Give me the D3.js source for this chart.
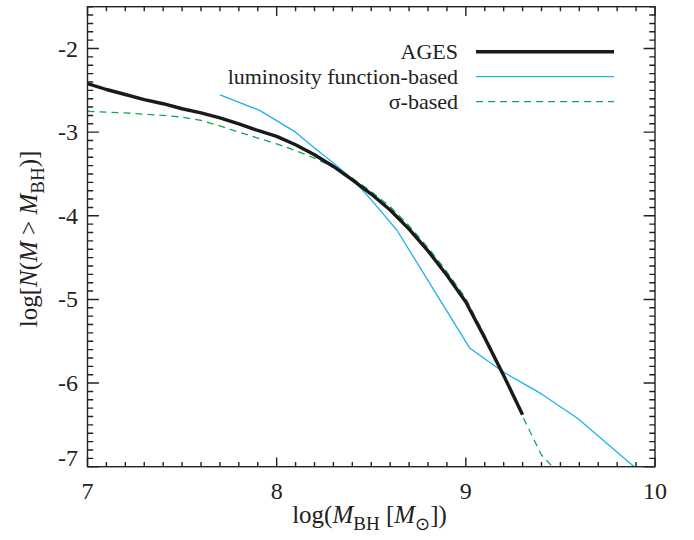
<!DOCTYPE html>
<html><head><meta charset="utf-8">
<script src="https://cdn.jsdelivr.net/npm/d3@7"></script>
<style>body{margin:0;background:#fff}svg{display:block}</style>
</head><body><svg id="c" width="694" height="540"></svg>
<script>
// Data
const agesX = [7.0,7.1,7.2,7.3,7.4,7.5,7.6,7.7,7.8,7.9,8.0,8.1,8.2,8.3,8.4,8.5,8.6,8.7,8.8,8.9,9.0,9.1,9.2,9.3];
const agesY = [-2.42,-2.49,-2.55,-2.61,-2.66,-2.72,-2.77,-2.83,-2.90,-2.98,-3.05,-3.15,-3.27,-3.41,-3.57,-3.74,-3.93,-4.16,-4.42,-4.71,-5.03,-5.46,-5.91,-6.38];
const lfX = [7.70,7.91,8.10,8.20,8.30,8.40,8.50,8.635,9.02,9.20,9.40,9.59,9.90];
const lfY = [-2.555,-2.74,-3.00,-3.19,-3.37,-3.56,-3.81,-4.17,-5.58,-5.87,-6.13,-6.42,-7.02];
const sigX = [7.0,7.1,7.2,7.3,7.4,7.5,7.6,7.7,7.8,7.9,8.0,8.1,8.2,8.3,8.4,8.5,8.6,8.7,8.8,8.9,9.0,9.1,9.2,9.3,9.4,9.5];
const sigY = [-2.75,-2.76,-2.77,-2.785,-2.80,-2.82,-2.86,-2.925,-3.00,-3.07,-3.14,-3.22,-3.31,-3.42,-3.55,-3.71,-3.89,-4.12,-4.38,-4.67,-4.99,-5.43,-5.90,-6.40,-6.86,-7.10];
const xTickVals = [7,8,9,10];
const yTickVals = [-7,-6,-5,-4,-3,-2];
const legendLabels = ["AGES","luminosity function-based","σ-based"];

const FONT = "'Liberation Serif', 'Times New Roman', serif";
const svg = d3.select("#c");
const L = 87.5, T = 6.7, W = 567.5, H = 460;
const x = d3.scaleLinear().domain([7,10]).range([L, L+W]);
const y = d3.scaleLinear().domain([-7,-1.5]).range([T+H, T]);

const series = [
  {xs: agesX, ys: agesY, color: "#1a1a1a", width: 3.4, dash: null},
  {xs: lfX, ys: lfY, color: "#1eb1ee", width: 1.3, dash: null},
  {xs: sigX, ys: sigY, color: "#14a651", width: 1.3, dash: "7,5"}
];

svg.append("clipPath").attr("id","clip").append("rect")
  .attr("x", L).attr("y", T).attr("width", W).attr("height", H);

const lineGen = d3.line().x(d => x(d[0])).y(d => y(d[1]));
const g = svg.append("g").attr("clip-path","url(#clip)");
[series[1], series[2], series[0]].forEach(s => {
  g.append("path").datum(s.xs.map((v,i)=>[v, s.ys[i]]))
    .attr("d", lineGen).attr("fill","none")
    .attr("stroke", s.color).attr("stroke-width", s.width)
    .attr("stroke-dasharray", s.dash).attr("stroke-linejoin","round");
});

// frame
svg.append("rect").attr("x", L).attr("y", T).attr("width", W).attr("height", H)
  .attr("fill","none").attr("stroke","#222").attr("stroke-width",1.4);

// ticks
const xMinor = d3.range(71, 100).map(v => v/10).filter(v => !xTickVals.includes(v));
const yMinor = d3.range(-69, -14).map(v => v/10).filter(v => !yTickVals.includes(v));
const xtl = 9.2, ytl = 11.4;
const tickData = [];
xMinor.forEach(v => tickData.push({ax:"x", v, len: xtl/2}));
xTickVals.forEach(v => tickData.push({ax:"x", v, len: xtl}));
yMinor.forEach(v => tickData.push({ax:"y", v, len: ytl/2}));
yTickVals.forEach(v => tickData.push({ax:"y", v, len: ytl}));
let tickPath = "";
tickData.forEach(t => {
  if (t.ax === "x") {
    const px = x(t.v);
    tickPath += `M${px},${T+H}V${T+H-t.len}M${px},${T}V${T+t.len}`;
  } else {
    const py = y(t.v);
    tickPath += `M${L},${py}H${L+t.len}M${L+W},${py}H${L+W-t.len}`;
  }
});
svg.append("path").attr("d", tickPath).attr("fill","none").attr("stroke","#222").attr("stroke-width",1.4);

// tick labels
svg.append("g").selectAll("text").data(xTickVals).join("text")
  .attr("x", d => x(d)).attr("y", 499).attr("text-anchor","middle")
  .style("font-family", FONT).attr("font-size", 24).attr("fill","#222")
  .text(d => String(d));
svg.append("g").selectAll("text").data(yTickVals).join("text")
  .attr("x", 78).attr("y", d => y(d) + 8 - (d === -7 ? 9 : 0)).attr("text-anchor","end")
  .style("font-family", FONT).attr("font-size", 24).attr("fill","#222")
  .text(d => String(d));

// x title
const xt = svg.append("text").attr("x", 369.5).attr("y", 523)
  .attr("text-anchor","middle").attr("font-size",25).style("font-family", FONT).attr("fill","#222");
xt.append("tspan").text("log(");
xt.append("tspan").attr("font-style","italic").text("M");
xt.append("tspan").attr("font-size",19).attr("dy",7).text("BH");
xt.append("tspan").attr("dy",-7).text(" [");
xt.append("tspan").attr("font-style","italic").text("M");
xt.append("tspan").attr("font-size",18).attr("dy",7).style("font-family","'DejaVu Sans'").text("⊙");
xt.append("tspan").attr("dy",-7).text("])");

// y title
const yt = svg.append("text").attr("transform","translate(37,239) rotate(-90)")
  .attr("text-anchor","middle").attr("font-size",25).style("font-family", FONT).attr("fill","#222");
yt.append("tspan").text("log[");
yt.append("tspan").attr("font-style","italic").text("N");
yt.append("tspan").text("(");
yt.append("tspan").attr("font-style","italic").text("M");
yt.append("tspan").text(" > ");
yt.append("tspan").attr("font-style","italic").text("M");
yt.append("tspan").attr("font-size",19).attr("dy",7).text("BH");
yt.append("tspan").attr("dy",-7).text(")]");

// legend
const legRows = [51.7, 76.7, 101.7];
legendLabels.forEach((lab, i) => {
  const s = series[i];
  svg.append("text").attr("x", 458).attr("y", legRows[i] + 7)
    .attr("text-anchor","end").attr("font-size",22).style("font-family", FONT).attr("fill","#222").text(lab);
  svg.append("line").attr("x1",476).attr("x2",614).attr("y1",legRows[i]).attr("y2",legRows[i])
    .attr("stroke", s.color).attr("stroke-width", s.width).attr("stroke-dasharray", s.dash);
});
</script></body></html>
